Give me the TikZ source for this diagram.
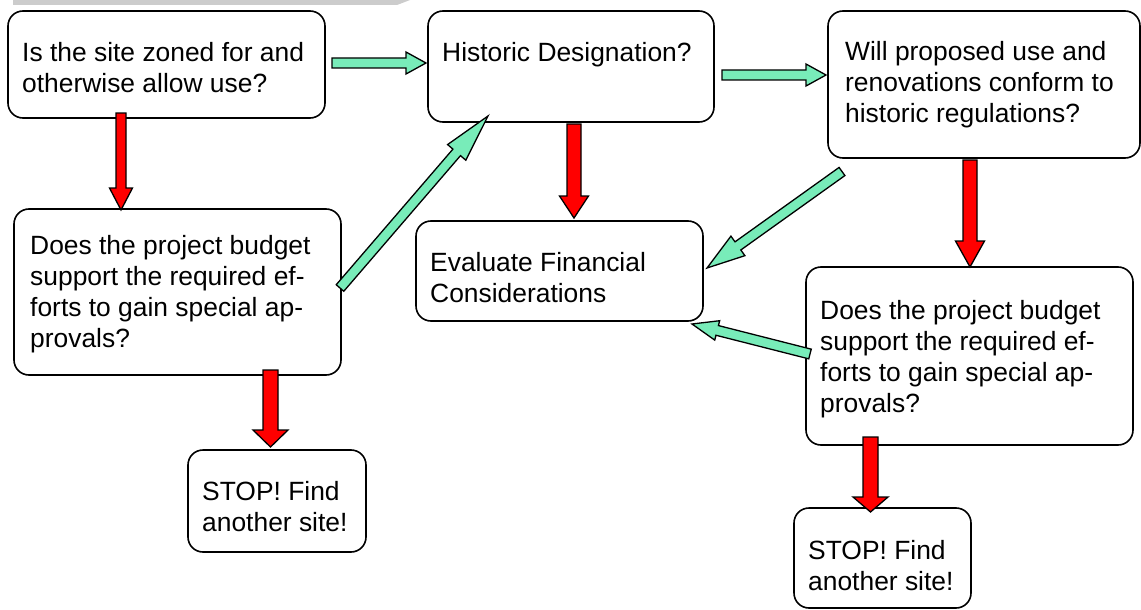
\documentclass[tikz,border=0pt]{standalone}
\usepackage{fontspec}
\setmainfont{Liberation Sans}
\usetikzlibrary{calc}
\definecolor{arrgreen}{RGB}{120,236,185}
\definecolor{arrred}{RGB}{255,0,0}
\definecolor{bargray}{RGB}{204,204,204}
\newcommand{\bkarrow}[6]{%
  \coordinate (bkh) at ($(#2)!#5!(#1)$);
  \draw[#6] ($(#1)!#3!90:(#2)$) -- ($(bkh)!#3!90:(#2)$) -- ($(bkh)!#4!90:(#2)$) -- (#2)
    -- ($(bkh)!#4!-90:(#2)$) -- ($(bkh)!#3!-90:(#2)$) -- ($(#1)!#3!-90:(#2)$) -- cycle;
}
\begin{document}
\begin{tikzpicture}[x=1pt,y=-1pt,
  box/.style={draw=black, line width=1.6pt, rounded corners=15pt, fill=white, inner sep=0pt},
  txt/.style={anchor=west, align=left, inner sep=0pt, font=\fontsize{26.4}{31}\selectfont},
  garrow/.style={draw=black, line width=1.3pt, fill=arrgreen, line join=miter},
  rarrow/.style={draw=black, line width=1.3pt, fill=arrred, line join=miter}]
\useasboundingbox (0,0) rectangle (1141,610);
% gray bar
\fill[bargray] (13,0) -- (410,0) -- (397,5) -- (13,5) -- cycle;
% boxes
\node[box, minimum width=317pt, minimum height=107pt] (b1) at (166.5,64.5) {};
\node[box, minimum width=286pt, minimum height=111pt] (b2) at (571,66.5) {};
\node[box, minimum width=312pt, minimum height=147pt] (b3) at (984,84.5) {};
\node[box, minimum width=327pt, minimum height=166pt] (b4) at (177.5,292) {};
\node[box, minimum width=287pt, minimum height=100pt] (b5) at (559.5,271) {};
\node[box, minimum width=327pt, minimum height=178pt] (b6) at (969.5,356) {};
\node[box, minimum width=178pt, minimum height=102pt] (b7) at (277,501) {};
\node[box, minimum width=177pt, minimum height=100pt] (b8) at (882.5,558) {};
% texts
\node[txt] (t1) at (22,67.5) {Is the site zoned for and\\otherwise allow use?};
\node[txt] (t2) at (442,55) {Historic Designation?};
\node[txt] (t3) at (845,85) {Will proposed use and\\renovations conform to\\historic regulations?};
\node[txt] (t4) at (30,294) {Does the project budget\\support the required ef-\\forts to gain special ap-\\provals?};
\node[txt] (t5) at (430,277.5) {Evaluate Financial\\Considerations};
\node[txt] (t6) at (820,359.5) {Does the project budget\\support the required ef-\\forts to gain special ap-\\provals?};
\node[txt] (t7) at (202,506.5) {STOP! Find\\another site!};
\node[txt] (t8) at (808,565.5) {STOP! Find\\another site!};
% arrow end points
\coordinate (g1a) at (332,63);   \coordinate (g1b) at (426,63);
\coordinate (g2a) at (340,288);  \coordinate (g2b) at (488,116);
\coordinate (g3a) at (722,75);   \coordinate (g3b) at (826,75);
\coordinate (g4a) at (842,171.5);\coordinate (g4b) at (707,268);
\coordinate (g5a) at (810,354);  \coordinate (g5b) at (692,324);
\coordinate (r1a) at (121,113);  \coordinate (r1b) at (121,210);
\coordinate (r2a) at (574,124);  \coordinate (r2b) at (574,218);
\coordinate (r3a) at (970,160);  \coordinate (r3b) at (970,267);
\coordinate (r4a) at (270.5,370);\coordinate (r4b) at (270.5,447);
\coordinate (r5a) at (870.5,437);\coordinate (r5b) at (870.5,512);
% green arrows
\bkarrow{g1a}{g1b}{5pt}{11pt}{20pt}{garrow}
\bkarrow{g3a}{g3b}{5pt}{11pt}{20pt}{garrow}
\bkarrow{g2a}{g2b}{5pt}{12pt}{48pt}{garrow}
\bkarrow{g4a}{g4b}{5pt}{12pt}{38pt}{garrow}
\bkarrow{g5a}{g5b}{5pt}{10pt}{26pt}{garrow}
% red arrows
\bkarrow{r1a}{r1b}{5pt}{11.5pt}{22pt}{rarrow}
\bkarrow{r2a}{r2b}{7pt}{14.5pt}{22pt}{rarrow}
\bkarrow{r3a}{r3b}{7pt}{14.5pt}{26pt}{rarrow}
\bkarrow{r4a}{r4b}{7.5pt}{17.5pt}{17pt}{rarrow}
\bkarrow{r5a}{r5b}{7.5pt}{17.5pt}{15pt}{rarrow}
\end{tikzpicture}
\end{document}
